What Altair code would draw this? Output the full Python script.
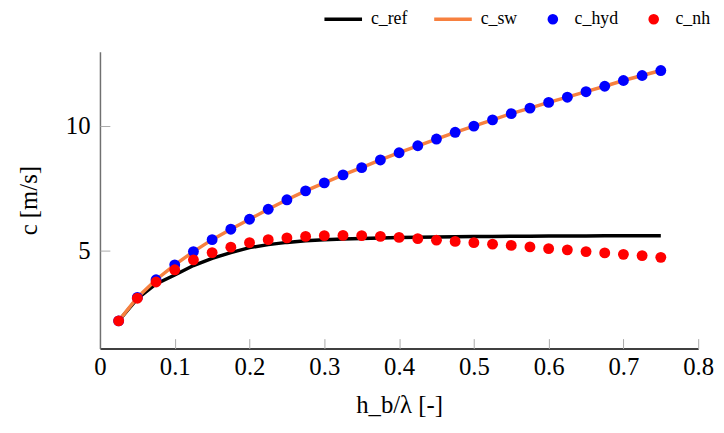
import altair as alt
import pandas as pd

# x positions (h_b / lambda)
x_vals = [0.025, 0.05, 0.075, 0.1, 0.125, 0.15, 0.175, 0.2, 0.225, 0.25,
          0.275, 0.3, 0.325, 0.35, 0.375, 0.4, 0.425, 0.45, 0.475, 0.5,
          0.525, 0.55, 0.575, 0.6, 0.625, 0.65, 0.675, 0.7, 0.725, 0.75]

c_ref = [2.18, 3.07, 3.66, 4.02, 4.40, 4.69, 4.92, 5.12, 5.24, 5.33,
         5.40, 5.44, 5.47, 5.49, 5.51, 5.53, 5.54, 5.55, 5.56, 5.57,
         5.57, 5.58, 5.58, 5.59, 5.59, 5.59, 5.60, 5.60, 5.60, 5.60]

c_sw = [2.18, 3.12, 3.83, 4.43, 4.96, 5.44, 5.86, 6.26, 6.66, 7.04,
        7.40, 7.72, 8.04, 8.33, 8.64, 8.93, 9.21, 9.48, 9.75, 10.00,
        10.25, 10.50, 10.72, 10.95, 11.16, 11.38, 11.60, 11.83, 12.03, 12.23]

c_hyd = [2.18, 3.12, 3.83, 4.43, 4.96, 5.44, 5.86, 6.26, 6.66, 7.04,
         7.40, 7.72, 8.04, 8.33, 8.64, 8.93, 9.21, 9.48, 9.75, 10.00,
         10.25, 10.50, 10.72, 10.95, 11.16, 11.38, 11.60, 11.83, 12.03, 12.23]

c_nh = [2.18, 3.09, 3.74, 4.23, 4.63, 4.92, 5.14, 5.32, 5.44, 5.51,
        5.57, 5.60, 5.61, 5.60, 5.57, 5.53, 5.48, 5.42, 5.37, 5.32,
        5.26, 5.21, 5.15, 5.08, 5.03, 4.96, 4.91, 4.85, 4.80, 4.73]

series_names = ["c_ref", "c_sw", "c_hyd", "c_nh"]
series_colors = ["#000000", "#f7803f", "#0000ff", "#ff0000"]
x_ticks = [0, 0.1, 0.2, 0.3, 0.4, 0.5, 0.6, 0.7, 0.8]
y_ticks = [5, 10]

rows = []
for name, vals in zip(series_names, [c_ref, c_sw, c_hyd, c_nh]):
    for xv, yv in zip(x_vals, vals):
        rows.append({"x": xv, "c": yv, "series": name})
df = pd.DataFrame(rows)

FONT = "Liberation Serif"
line_path = "M-4.66,-0.33L2.43,-0.33L2.43,0.33L-4.66,0.33Z"

x_scale = alt.Scale(domain=[0, 0.8], nice=False, zero=False)
y_scale = alt.Scale(domain=[1.07, 12.98], nice=False, zero=False)

# main axes: domain + labels + titles
x_axis = alt.Axis(values=x_ticks, title="h_b/λ [-]", format="~g", orient="bottom",
                  domainColor="#000000", domainWidth=1.3, ticks=False, grid=False,
                  labelFont=FONT, labelFontSize=25, labelColor="#000",
                  labelPadding=6, labelFlush=False,
                  titleFont=FONT, titleFontSize=25, titleFontWeight="normal",
                  titleColor="#000", titlePadding=14)
y_axis = alt.Axis(values=y_ticks, title="c [m/s]", orient="left",
                  domainColor="#707070", domainWidth=1.5, ticks=False, grid=False,
                  labelFont=FONT, labelFontSize=25, labelColor="#000",
                  labelPadding=10,
                  titleFont=FONT, titleFontSize=25, titleFontWeight="normal",
                  titleColor="#000", titlePadding=24)
# inward tick-only axes
x_tick_axis = alt.Axis(values=x_ticks, orient="bottom", offset=-10, tickSize=10,
                       tickColor="#aaaaaa", tickWidth=1, domain=False,
                       labels=False, title=None, grid=False)
y_tick_axis = alt.Axis(values=y_ticks, orient="left", offset=-10, tickSize=10,
                       tickColor="#aaaaaa", tickWidth=1, domain=False,
                       labels=False, title=None, grid=False)

color_scale = alt.Scale(domain=series_names, range=series_colors)
shape_scale = alt.Scale(domain=series_names,
                        range=[line_path, line_path, "circle", "circle"])

legend = alt.Legend(orient="none", legendX=243, legendY=-42, direction="horizontal",
                    title=None, symbolSize=115, symbolStrokeWidth=0,
                    labelFont=FONT, labelFontSize=18, labelColor="#000",
                    labelOffset=13, columnPadding=27, padding=0, labelLimit=200)

base = alt.Chart(df)

ticks_layer = base.mark_point(opacity=0).encode(
    x=alt.X("x:Q", scale=x_scale, axis=x_tick_axis),
    y=alt.Y("c:Q", scale=y_scale, axis=y_tick_axis))

ref_line = base.transform_filter(alt.datum.series == "c_ref").mark_line(
    strokeWidth=3.5, clip=True).encode(
    x=alt.X("x:Q", scale=x_scale, axis=x_axis),
    y=alt.Y("c:Q", scale=y_scale, axis=y_axis),
    color=alt.Color("series:N", scale=color_scale, legend=legend))

sw_line = base.transform_filter(alt.datum.series == "c_sw").mark_line(
    strokeWidth=3.5, clip=True).encode(
    x=alt.X("x:Q", scale=x_scale, axis=x_axis),
    y=alt.Y("c:Q", scale=y_scale, axis=y_axis),
    color=alt.Color("series:N", scale=color_scale, legend=legend))

pts = base.transform_filter(
    (alt.datum.series == "c_hyd") | (alt.datum.series == "c_nh")
).mark_point(filled=True, size=121, opacity=1, clip=True).encode(
    x=alt.X("x:Q", scale=x_scale, axis=x_axis),
    y=alt.Y("c:Q", scale=y_scale, axis=y_axis),
    color=alt.Color("series:N", scale=color_scale, legend=legend),
    shape=alt.Shape("series:N", scale=shape_scale, legend=legend),
)

main = alt.layer(ref_line, sw_line, pts)

chart = alt.layer(main, ticks_layer).resolve_axis(
    x="independent", y="independent"
).properties(
    width=605, height=300,
    autosize=alt.AutoSizeParams(type="none"),
    padding={"left": 93, "top": 42, "right": 18, "bottom": 75},
).configure_view(stroke=None)

chart.save("out.html", embed_options={"renderer": "svg", "actions": False})
